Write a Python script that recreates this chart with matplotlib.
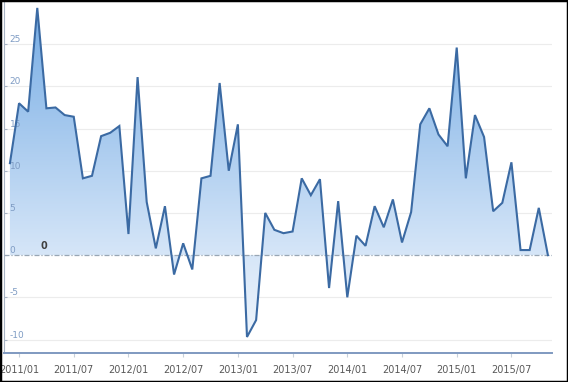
import numpy as np
import matplotlib
matplotlib.use("Agg")
import matplotlib.pyplot as plt
from matplotlib.patches import Rectangle
from matplotlib.colors import LinearSegmentedColormap

# Monthly values, 2010/12 .. 2015/11
values = [10.9, 18.0, 17.0, 29.3, 17.4, 17.5, 16.6, 16.4, 9.1, 9.4,
          14.1, 14.5, 15.3, 2.5, 21.1, 6.3, 0.8, 5.8, -2.3, 1.4,
          -1.7, 9.1, 9.4, 20.4, 10.0, 15.5, -9.7, -7.7, 5.0, 3.0,
          2.6, 2.8, 9.1, 7.1, 9.0, -3.9, 6.4, -5.0, 2.3, 1.1,
          5.8, 3.3, 6.6, 1.5, 5.1, 15.5, 17.4, 14.3, 12.9, 24.6,
          9.1, 16.6, 14.0, 5.2, 6.2, 11.0, 0.6, 0.6, 5.6, 0.0]
tick_labels = ["2011/01", "2011/07", "2012/01", "2012/07", "2013/01",
               "2013/07", "2014/01", "2014/07", "2015/01", "2015/07"]
tick_index = [1, 7, 13, 19, 25, 31, 37, 43, 49, 55]
y_ticks = [-10, -5, 0, 5, 10, 15, 20, 25]
zero_label = "0"

W, H = 568, 382
fig = plt.figure(figsize=(W / 100, H / 100), dpi=100)
fig.patch.set_facecolor("white")
ax = fig.add_axes([4 / W, (H - 353) / H, (552 - 4) / W, (353 - 2) / H])
ax.set_facecolor("white")

x = np.arange(len(values))
y = np.array(values)
ymin, ymax = -11.6, 30
ax.set_xlim(-0.65, 59.45)
ax.set_ylim(ymin, ymax)

# gridlines
for t in y_ticks:
    if t != 0:
        ax.axhline(t, color="#ececec", lw=0.8, zorder=0)
ax.axhline(0, color="#98a6b4", lw=0.9, ls=(0, (4, 1.5, 1, 1.5)), zorder=3)

# gradient fill clipped to area
poly = ax.fill_between(x, y, 0, facecolor="none", edgecolor="none")
grad = np.linspace(0, 1, 256).reshape(-1, 1)
zf = (0 - ymin) / (ymax - ymin)
cmap = LinearSegmentedColormap.from_list(
    "g", [(0.0, "#f3f8fd"), (zf, "#d6e6f8"), (1.0, "#74abe4")])
im = ax.imshow(grad, extent=[-0.65, 59.45, ymin, ymax], origin="lower",
               cmap=cmap, aspect="auto", zorder=1, interpolation="bicubic")
im.set_clip_path(poly.get_paths()[0], transform=ax.transData)

ax.plot(x, y, color="#3b6aa3", lw=1.5, zorder=4, solid_joinstyle="miter")

ax.text(3.7, 0.5, zero_label, fontsize=7, fontweight="bold", color="#404040",
        ha="center", va="bottom", zorder=5)

# axes styling
for s in ["top", "right"]:
    ax.spines[s].set_visible(False)
ax.spines["left"].set_color("#a8b4c4")
ax.spines["left"].set_linewidth(0.8)
ax.spines["bottom"].set_color("#7f99c0")
ax.spines["bottom"].set_linewidth(1.4)

ax.set_yticks(y_ticks)
ax.set_yticklabels([str(t) for t in y_ticks])
ax.tick_params(axis="y", direction="in", length=2, pad=-4, labelsize=6.5,
               labelcolor="#7f9cc4", color="#a8b4c4")
for lab in ax.get_yticklabels():
    lab.set_horizontalalignment("left")
    lab.set_verticalalignment("bottom")

ax.set_xticks(tick_index)
ax.set_xticklabels(tick_labels)
ax.tick_params(axis="x", direction="out", length=3, pad=6, labelsize=7,
               labelcolor="#595959", color="#c8d0da")

# screenshot frame
fig.patches.append(Rectangle((0, 0), 1, 1, transform=fig.transFigure,
                             fill=False, edgecolor="black", lw=2.5, zorder=10))

fig.savefig("out.png", dpi=100, facecolor="white")
